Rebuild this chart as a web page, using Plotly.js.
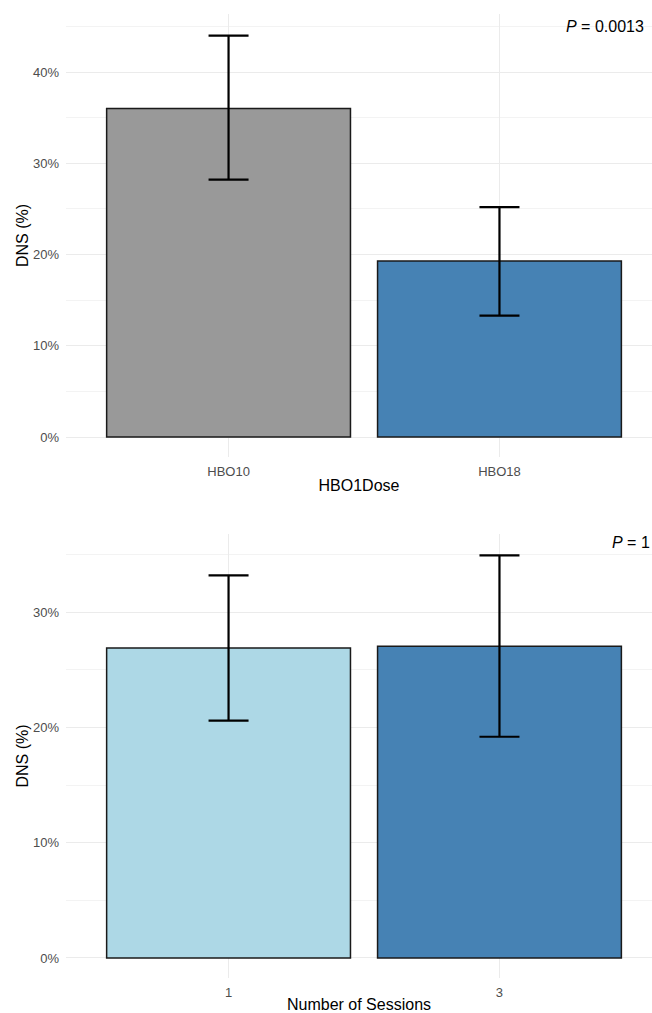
<!DOCTYPE html>
<html>
<head>
<meta charset="utf-8">
<script src="https://cdn.plot.ly/plotly-3.0.1.min.js"></script>
<style>html,body{margin:0;padding:0;background:#fff;}#chart{width:652px;height:1013px;}</style>
</head>
<body>
<div id="chart"></div>
<script>
// Panel 1: HBO1Dose
const doseCategories = ['HBO10', 'HBO18'];
const doseValues = [36.0, 19.3];
const doseUpper = [44.0, 25.2];
const doseLower = [28.2, 13.3];
const doseColors = ['#999999', '#4682B4'];
const doseP = '<i>P</i> = 0.0013';

// Panel 2: Number of Sessions
const sessCategories = ['1', '3'];
const sessValues = [26.9, 27.05];
const sessUpper = [33.2, 34.95];
const sessLower = [20.6, 19.2];
const sessColors = ['#ADD8E6', '#4682B4'];
const sessP = '<i>P</i> = 1';

const yTicks1 = [0, 10, 20, 30, 40];
const yTicks2 = [0, 10, 20, 30];

const FONT = 'Liberation Sans, Arial, Helvetica, sans-serif';

function barTrace(cats, vals, up, lo, colors, xa, ya) {
  return {
    type: 'bar',
    x: cats,
    y: vals,
    xaxis: xa,
    yaxis: ya,
    width: 0.9,
    marker: {color: colors, line: {color: '#1a1a1a', width: 1.5}},
    error_y: {
      type: 'data', symmetric: false,
      array: up.map((u, i) => u - vals[i]),
      arrayminus: lo.map((l, i) => vals[i] - l),
      color: '#000000', thickness: 2.2, width: 20
    },
    hoverinfo: 'x+y',
    showlegend: false
  };
}

const traces = [
  barTrace(doseCategories, doseValues, doseUpper, doseLower, doseColors, 'x', 'y'),
  barTrace(sessCategories, sessValues, sessUpper, sessLower, sessColors, 'x2', 'y2')
];

const gridColor = '#ebebeb';
const tickFont = {family: FONT, size: 13, color: '#4d4d4d'};
const titleFont = {family: FONT, size: 16, color: '#000000'};

function xAxis(title, anchor) {
  return {
    anchor: anchor,
    domain: [0, 1],
    type: 'category',
    range: [-0.6, 1.563],
    showgrid: true, gridcolor: gridColor, gridwidth: 1,
    zeroline: false, showline: false, ticks: '',
    tickfont: tickFont,
    ticklabelstandoff: 5,
    title: {text: title, font: titleFont, standoff: 1},
    fixedrange: true
  };
}
function yAxis(domain, range, ticks, anchor) {
  return {
    anchor: anchor,
    domain: domain,
    range: range,
    tickvals: ticks,
    ticktext: ticks.map(t => t + '%'),
    showgrid: true, gridcolor: gridColor, gridwidth: 1,
    minor: {dtick: 5, tick0: 5, showgrid: true, gridcolor: '#f3f3f3', gridwidth: 1},
    zeroline: false, showline: false, ticks: '',
    tickfont: tickFont,
    ticklabelstandoff: 6,
    title: {text: 'DNS (%)', font: titleFont, standoff: 0},
    fixedrange: true
  };
}

const layout = {
  width: 652, height: 1013,
  margin: {l: 66, r: 0, t: 14, b: 35},
  paper_bgcolor: '#ffffff', plot_bgcolor: '#ffffff',
  font: {family: FONT},
  bargap: 0.1,
  xaxis: xAxis('HBO1Dose', 'y'),
  yaxis: yAxis([0.54046, 1], [-2.19, 46.36], yTicks1, 'x'),
  xaxis2: xAxis('Number of Sessions', 'y2'),
  yaxis2: yAxis([0, 0.46058], [-1.74, 36.8], yTicks2, 'x2'),
  annotations: [
    {xref: 'paper', yref: 'paper', x: 0.9898, y: 0.98755, xanchor: 'right', yanchor: 'middle',
     text: doseP, showarrow: false, font: {family: FONT, size: 16, color: '#000000'}},
    {xref: 'paper', yref: 'paper', x: 1.0, y: 0.45125, xanchor: 'right', yanchor: 'middle',
     text: sessP, showarrow: false, font: {family: FONT, size: 16, color: '#000000'}}
  ]
};

Plotly.newPlot('chart', traces, layout, {displayModeBar: false, staticPlot: true});
</script>
</body>
</html>
